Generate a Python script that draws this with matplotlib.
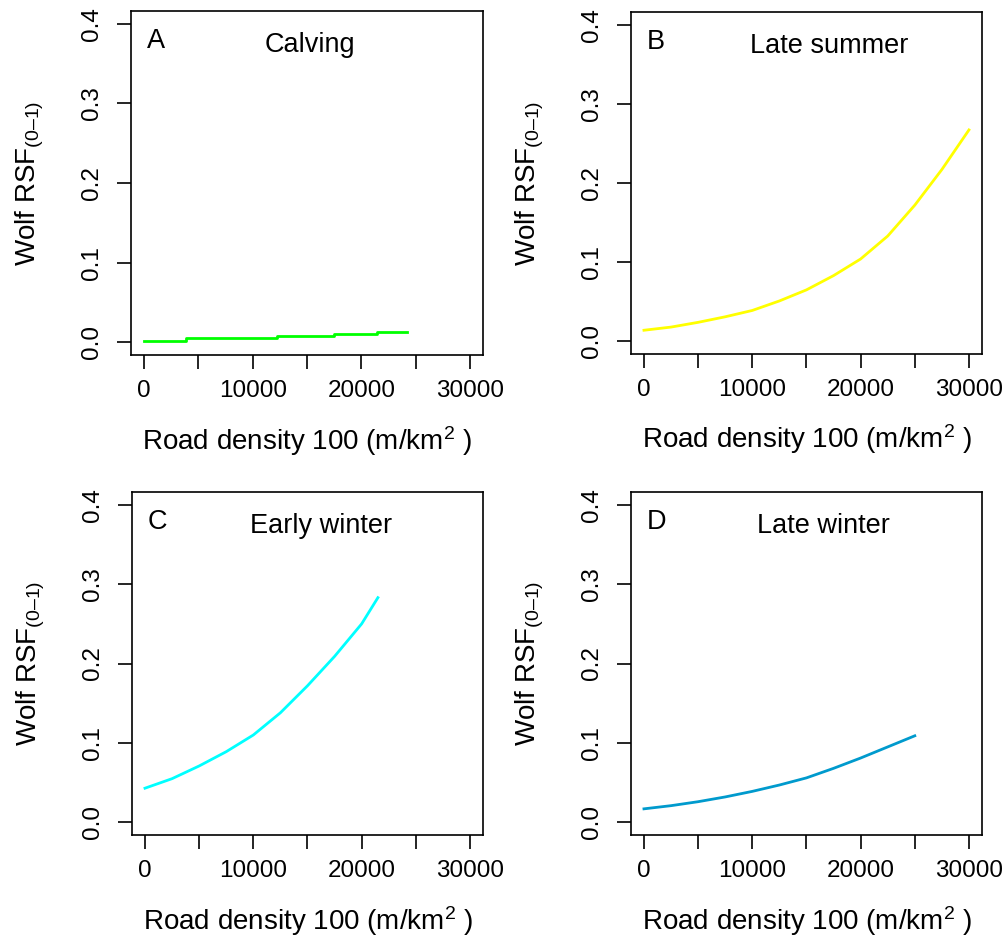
import matplotlib
matplotlib.use("Agg")
import matplotlib.pyplot as plt

plt.rcParams["font.family"] = ["Liberation Sans", "DejaVu Sans"]
plt.rcParams["mathtext.fontset"] = "custom"
plt.rcParams["mathtext.rm"] = "Liberation Sans"
plt.rcParams["mathtext.it"] = "Liberation Sans:italic"
plt.rcParams["mathtext.bf"] = "Liberation Sans:bold"

# --- data ---
calving_x = [0, 3900, 12200, 17500, 21400, 24200]
calving_y = [0.002, 0.005, 0.0075, 0.0105, 0.013, 0.013]

late_summer_x = [0, 2500, 5000, 7500, 10000, 12500, 15000, 17500, 20000, 22500, 25000, 27500, 30000]
late_summer_y = [0.014, 0.018, 0.024, 0.031, 0.039, 0.051, 0.065, 0.083, 0.104, 0.133, 0.172, 0.217, 0.267]

early_winter_x = [0, 2500, 5000, 7500, 10000, 12500, 15000, 17500, 20000, 21500]
early_winter_y = [0.043, 0.055, 0.071, 0.089, 0.110, 0.138, 0.172, 0.209, 0.250, 0.283]

late_winter_x = [0, 2500, 5000, 7500, 10000, 12500, 15000, 17500, 20000, 22500, 25000]
late_winter_y = [0.017, 0.021, 0.026, 0.032, 0.039, 0.047, 0.056, 0.068, 0.081, 0.095, 0.109]

letters = ["A", "B", "C", "D"]
seasons = ["Calving", "Late summer", "Early winter", "Late winter"]
colors = ["#00FF00", "#FFFF00", "#00FFFF", "#009ACD"]
xs = [calving_x, late_summer_x, early_winter_x, late_winter_x]
ys = [calving_y, late_summer_y, early_winter_y, late_winter_y]
steps = [True, False, False, False]

x_ticks = [0, 5000, 10000, 15000, 20000, 25000, 30000]
x_ticklabels = ["0", "", "10000", "", "20000", "", "30000"]
y_ticks = [0.0, 0.1, 0.2, 0.3, 0.4]
y_ticklabels = ["0.0", "0.1", "0.2", "0.3", "0.4"]

# panel placement in figure fraction (left, bottom, width, height)
boxes = [
    [0.1302, 0.6227, 0.3499, 0.3656],
    [0.6272, 0.6238, 0.3489, 0.3635],
    [0.1312, 0.1126, 0.3489, 0.3645],
    [0.6272, 0.1126, 0.3489, 0.3645],
]
title_x = [0.508, 0.564, 0.540, 0.547]

fig = plt.figure(figsize=(10.06, 9.41), dpi=100)

for i in range(4):
    ax = fig.add_axes(boxes[i])
    if steps[i]:
        ax.plot(xs[i], ys[i], color=colors[i], linewidth=2, drawstyle="steps-post")
    else:
        ax.plot(xs[i], ys[i], color=colors[i], linewidth=2)

    ax.set_xlim(-1200, 31200)
    ax.set_ylim(-0.016, 0.416)
    ax.set_xticks(x_ticks)
    ax.set_xticklabels(x_ticklabels)
    ax.set_yticks(y_ticks)
    ax.set_yticklabels(y_ticklabels)
    for lab in ax.get_yticklabels():
        lab.set_rotation(90)
        lab.set_va("center")

    ax.tick_params(direction="out", length=10, width=1.2, labelsize=17.5, color="black")
    ax.tick_params(axis="x", pad=8)
    ax.tick_params(axis="y", pad=10)
    for sp in ax.spines.values():
        sp.set_linewidth(1.2)

    ax.text(0.045, 0.912, letters[i], transform=ax.transAxes, fontsize=19.5,
            ha="left", va="center")
    ax.text(title_x[i], 0.9, seasons[i], transform=ax.transAxes, fontsize=19.5,
            ha="center", va="center")

    ax.text(0.5, -0.25, "Road density 100 (m/km$^{2}$ )", transform=ax.transAxes,
            fontsize=20, ha="center", va="center")
    ax.text(-0.287, 0.5, "Wolf RSF$_{(0\u20131)}$", transform=ax.transAxes,
            fontsize=20, ha="center", va="center", rotation=90)

fig.savefig("out.png", dpi=100)
